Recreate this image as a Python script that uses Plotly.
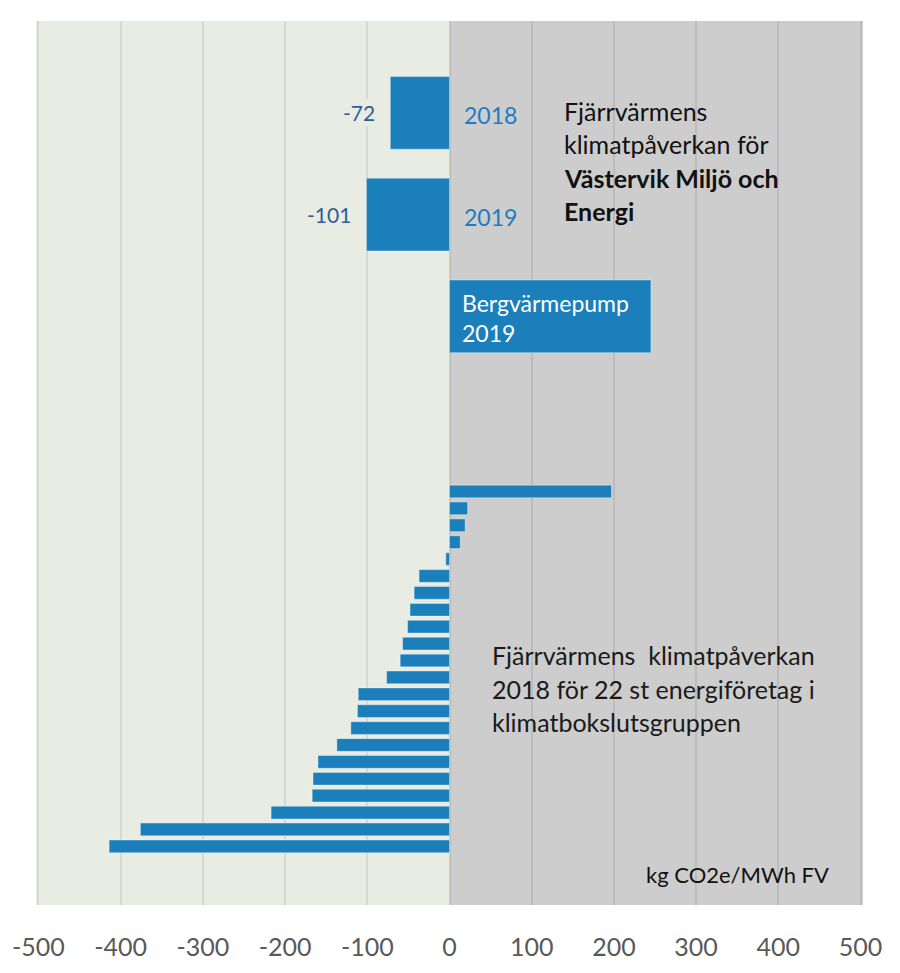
import plotly.graph_objects as go

# ---------------- data ----------------
top_categories = ["2018", "2019", "Bergvärmepump 2019"]
top_values = [-72, -101, 245]

company_labels = [f"Företag {i}" for i in range(1, 23)]
company_values = [197, 22, 19, 13, -4.5, -37, -43, -48, -51, -57, -60,
                  -76.5, -111, -112, -120, -137, -160, -166, -167, -217, -376, -414]

x_ticks = [-500, -400, -300, -200, -100, 0, 100, 200, 300, 400, 500]

# ---------------- style ----------------
BAR = "#1A7FBB"
LEFT_BG = "#E9ECE3"
RIGHT_BG = "#CDCDCD"
FONT = "Lato"
W, H = 900, 973
MT, MB, ML, MR = 21, 67, 34, 37
PH = H - MT - MB
PW = W - ML - MR


def py(ypx):
    """pixel row -> paper y"""
    return (H - MB - ypx) / PH


def px(xpx):
    """pixel column -> paper x"""
    return (xpx - ML) / PW


fig = go.Figure()

fig.add_trace(go.Bar(
    y=company_labels, x=company_values, orientation="h", width=0.75,
    marker=dict(color=BAR, line=dict(color="rgba(255,255,255,0.35)", width=1)),
    xaxis="x", yaxis="y", showlegend=False, hoverinfo="x+y",
))
fig.add_trace(go.Bar(
    y=top_categories, x=top_values, orientation="h", width=0.714,
    marker=dict(color=BAR, line=dict(color="rgba(255,255,255,0.35)", width=1)),
    xaxis="x", yaxis="y2", showlegend=False, hoverinfo="x+y",
))

shapes = [
    dict(type="rect", xref="x", yref="paper", x0=-503, x1=0, y0=0, y1=1,
         fillcolor=LEFT_BG, line=dict(width=0), layer="below"),
    dict(type="rect", xref="x", yref="paper", x0=0, x1=503, y0=0, y1=1,
         fillcolor=RIGHT_BG, line=dict(width=0), layer="below"),
]

annotations = []
# value labels for the two negative top bars (category index positions)
for idx, (cat, v) in enumerate(zip(top_categories[:2], top_values[:2])):
    annotations.append(dict(
        x=v, y=idx, xref="x", yref="y2", xanchor="right", yanchor="middle",
        xshift=-13, text=f"{v:g}", showarrow=False, bgcolor=LEFT_BG,
        font=dict(family=FONT, size=21, color="#2F5E97")))
    annotations.append(dict(
        x=0, y=idx, xref="x", yref="y2", xanchor="left", yanchor="middle",
        xshift=12, yshift=-2, text=cat, showarrow=False,
        font=dict(family=FONT, size=23, color="#1C7CC4")))

# white label inside the heat pump bar
berg_lines = ["Bergvärmepump", "2019"]
for i, line in enumerate(berg_lines):
    annotations.append(dict(
        x=0, y=py(303 + 30 * i), xref="x", yref="paper", xanchor="left",
        yanchor="middle", xshift=10, text=line, showarrow=False,
        font=dict(family=FONT, size=23, color="white")))

# text block top
top_block = ["Fjärrvärmens", "klimatpåverkan för",
             "<b>Västervik Miljö och</b>", "<b>Energi</b>"]
for i, line in enumerate(top_block):
    annotations.append(dict(
        x=px(561), y=py(111 + 33.5 * i), xref="paper", yref="paper",
        xanchor="left", yanchor="middle", text=line, showarrow=False,
        font=dict(family=FONT, size=25, color="#111111")))

low_block = ["Fjärrvärmens  klimatpåverkan", "2018 för 22 st energiföretag i",
             "klimatbokslutsgruppen"]
for i, line in enumerate(low_block):
    annotations.append(dict(
        x=px(489), y=py(656 + 33.5 * i), xref="paper", yref="paper",
        xanchor="left", yanchor="middle", text=line, showarrow=False,
        font=dict(family=FONT, size=25, color="#1a1a1a")))

annotations.append(dict(
    x=px(643), y=py(875), xref="paper", yref="paper", xanchor="left",
    yanchor="middle", text="kg CO2e/MWh FV", showarrow=False,
    font=dict(family=FONT, size=22, color="#111111")))

fig.update_layout(
    width=W, height=H,
    margin=dict(t=MT, b=MB, l=ML, r=MR, pad=0),
    paper_bgcolor="white", plot_bgcolor="white",
    font=dict(family=FONT),
    bargap=0.25,
    xaxis=dict(range=[-503, 503], tickvals=x_ticks, ticktext=[str(t) for t in x_ticks],
               showgrid=True, gridcolor="rgba(0,0,0,0.08)", gridwidth=1.5,
               zeroline=False, showline=False, ticks="outside", ticklen=20,
               tickcolor="rgba(0,0,0,0)",
               tickfont=dict(family=FONT, size=25, color="#595959"),
               fixedrange=True),
    yaxis=dict(type="category", categoryorder="array", categoryarray=company_labels,
               range=[24.47, -27.84], showticklabels=False, showgrid=False,
               zeroline=False, showline=False, fixedrange=True),
    yaxis2=dict(type="category", categoryorder="array", categoryarray=top_categories,
                overlaying="y", range=[7.786, -0.903], showticklabels=False,
                showgrid=False, zeroline=False, showline=False, fixedrange=True),
    shapes=shapes,
    annotations=annotations,
)

fig.write_html("out.html")
